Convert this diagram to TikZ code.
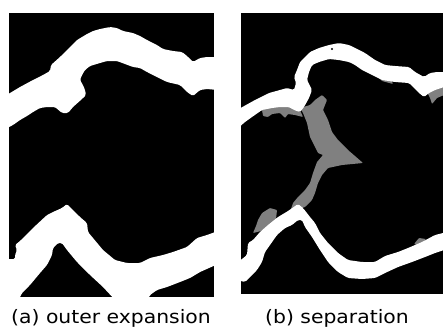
\documentclass[tikz,border=0pt]{standalone}
\usepackage{fontspec}
\setmainfont[FakeStretch=1.1]{DejaVu Sans}
\usepackage{tikz}
\usetikzlibrary{positioning}

\begin{document}
\begin{tikzpicture}[
      x=1pt,
      y=-1pt,
      panel/.style={
          fill=black
        },
      band/.style={
          fill=white,
          rounded corners=1.5pt
        },
      region/.style={
          fill=black!50,
          rounded corners=0.8pt
        },
      caption/.style={
          anchor=base,
          inner sep=0pt,
          font=\fontsize{18.5}{20}\selectfont
        }
    ]
    \useasboundingbox (0,0) rectangle (443,327);

    % Panel (a)
    \fill[panel] (9,13) rectangle (214,297);
    \begin{scope}
      \clip (9,13) rectangle (214,297);
      % upper band
      \fill[band] (5,96) -- (20,87) -- (33,80) -- (43,75) -- (50,71) -- (51,65) -- (60,57)
        -- (70,47) -- (77,40) -- (87,34) -- (93,31) -- (100,29) -- (110,27) -- (117,28)
        -- (123,31) -- (133,33) -- (140,36) -- (147,40) -- (157,45) -- (163,49) -- (173,51)
        -- (182,52) -- (187,56) -- (193,62) -- (200,58) -- (207,57) -- (218,57)
        -- (218,90) -- (207,89) -- (200,90) -- (193,96) -- (187,92) -- (180,85) -- (167,82)
        -- (157,77) -- (147,72) -- (140,68) -- (133,67) -- (125,64) -- (117,61) -- (107,61)
        -- (100,63) -- (90,66) -- (85,70) -- (82,75) -- (80,80) -- (83,85) -- (85,90)
        -- (86,95) -- (82,99) -- (73,107) -- (68,113) -- (62,113) -- (55,107) -- (47,107)
        -- (40,108) -- (33,112) -- (27,116) -- (20,120) -- (13,125) -- (5,129) -- cycle;
      % lower band
      \fill[band] (5,259) -- (15,259) -- (15,255) -- (17,250) -- (15,245) -- (20,241)
        -- (33,228) -- (47,215) -- (53,212) -- (62,208) -- (67,204) -- (73,210) -- (80,217)
        -- (87,223) -- (88,232) -- (93,238) -- (103,250) -- (115,260) -- (127,263)
        -- (140,263) -- (150,258) -- (163,255) -- (173,252) -- (187,247) -- (197,238)
        -- (207,235) -- (218,231) -- (218,264) -- (200,272) -- (190,278) -- (180,282)
        -- (167,287) -- (157,290) -- (150,295) -- (147,301) -- (116,301) -- (103,287)
        -- (90,275) -- (77,262) -- (67,250) -- (62,243) -- (58,243) -- (53,248) -- (52,255)
        -- (47,265) -- (40,273) -- (30,285) -- (22,293) -- (18,301) -- (5,301) -- cycle;
    \end{scope}

    % Panel (b)
    \fill[panel] (241,13) rectangle (443,294);
    \begin{scope}
      \clip (241,13) rectangle (443,294);
      % separated region
      \fill[region] (300,108) -- (303,113) -- (307,123) -- (310,137) -- (315,147) -- (318,153)
        -- (323,155) -- (317,162) -- (313,173) -- (310,183) -- (305,190) -- (298,197)
        -- (293,203) -- (290,212) -- (305,207) -- (312,200) -- (315,193) -- (318,183)
        -- (322,175) -- (328,168) -- (342,165) -- (363,163) -- (348,150) -- (338,140)
        -- (332,132) -- (328,120) -- (323,110) -- (327,100) -- (322,95) -- (315,100)
        -- (310,105) -- cycle;
      \fill[region] (262,110) -- (270,107) -- (280,106) -- (290,107) -- (300,110) -- (303,117)
        -- (295,115) -- (288,114) -- (285,118) -- (280,113) -- (272,114) -- (268,117)
        -- (263,116) -- cycle;
      \fill[region] (253,233) -- (256,226) -- (258,220) -- (262,213) -- (270,208) -- (277,210)
        -- (276,219) -- (268,226) -- (261,231) -- cycle;
      \fill[region] (370,69) -- (382,72) -- (390,77) -- (393,84) -- (382,81) -- cycle;
      \fill[region] (427,92) -- (436,87) -- (444,86) -- (444,95) -- (437,98) -- (432,104)
        -- (430,98) -- cycle;
      \fill[region] (414,244) -- (419,238) -- (426,239) -- (421,246) -- cycle;
      % upper band
      \fill[band] (237,110) -- (255,100) -- (269,93) -- (280,90) -- (287,88) -- (294,90)
        -- (296,83) -- (294,77) -- (297,70) -- (300,62) -- (305,57) -- (310,52) -- (319,48)
        -- (329,45) -- (339,43) -- (349,45) -- (355,48) -- (365,53) -- (375,60) -- (385,65)
        -- (395,66) -- (409,67) -- (415,72) -- (424,77) -- (430,73) -- (437,72) -- (447,72)
        -- (447,86) -- (435,90) -- (429,93) -- (424,97) -- (419,93) -- (409,83) -- (395,82)
        -- (382,80) -- (372,75) -- (362,70) -- (355,65) -- (349,62) -- (339,60) -- (329,59)
        -- (319,62) -- (312,65) -- (309,72) -- (307,80) -- (312,90) -- (309,98) -- (304,107)
        -- (300,112) -- (294,110) -- (289,107) -- (280,107) -- (272,108) -- (262,110)
        -- (252,117) -- (245,122) -- (237,129) -- cycle;
      \fill[black] (332,49) circle (1.2);
      % lower band
      \fill[band] (237,263) -- (247,255) -- (248,243) -- (253,240) -- (260,232) -- (268,225)
        -- (278,217) -- (288,211) -- (298,204) -- (303,208) -- (310,217) -- (315,223)
        -- (320,233) -- (328,243) -- (338,253) -- (348,260) -- (362,262) -- (375,262)
        -- (385,256) -- (398,252) -- (408,248) -- (422,242) -- (435,235) -- (447,232)
        -- (447,249) -- (435,253) -- (425,257) -- (412,262) -- (398,267) -- (385,273)
        -- (375,278) -- (362,279) -- (348,278) -- (338,272) -- (328,262) -- (320,250)
        -- (312,237) -- (305,227) -- (302,220) -- (298,220) -- (292,225) -- (285,228)
        -- (277,235) -- (270,245) -- (265,252) -- (262,262) -- (257,270) -- (250,277)
        -- (245,282) -- (237,280) -- cycle;
    \end{scope}

    % Captions
    \node[caption] (cap_a) at (111,323) {(a) outer expansion};
    \node[caption] (cap_b) at (337,323) {(b) separation};
  \end{tikzpicture}
\end{document}
